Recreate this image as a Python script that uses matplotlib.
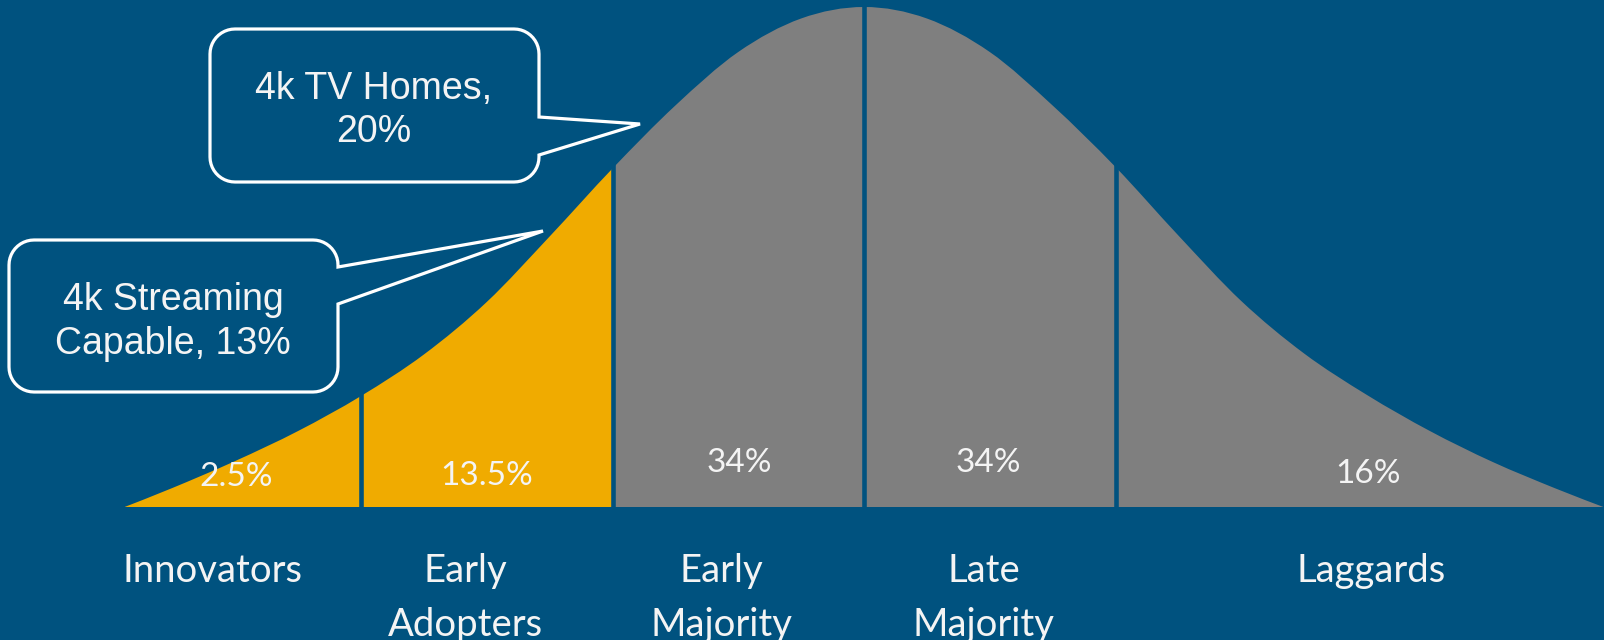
import numpy as np
import matplotlib
matplotlib.use("Agg")
import matplotlib.pyplot as plt
from matplotlib.patches import Polygon, PathPatch, Rectangle
from matplotlib.path import Path

# adoption curve, x in standard-deviation units, height relative to the peak
curve_z = [-2.94, -2.75, -2.5, -2.25, -2.0, -1.75, -1.5, -1.25, -1.0, -0.75, -0.5, -0.25,
           0.0, 0.25, 0.5, 0.75, 1.0, 1.25, 1.5, 1.75, 2.0, 2.25, 2.5, 2.75, 2.94]
curve_h = [0.0, 0.038, 0.092, 0.152, 0.222, 0.305, 0.41, 0.541, 0.677, 0.803, 0.91, 0.977,
           1.0, 0.977, 0.91, 0.803, 0.68, 0.543, 0.412, 0.307, 0.224, 0.152, 0.09, 0.037, 0.0]

segments = ["Innovators", "Early\nAdopters", "Early\nMajority", "Late\nMajority", "Laggards"]
shares = ["2.5%", "13.5%", "34%", "34%", "16%"]
bounds = [-2.94, -2.0, -1.0, 0.0, 1.0, 2.94]
adopted = [True, True, False, False, False]

callouts = ["4k TV Homes,\n20%", "4k Streaming\nCapable, 13%"]

bg = "#00527F"
gold = "#F0AB00"
grey = "#7F7F7F"
txt = "#F4F4F4"

fig = plt.figure(figsize=(16.04, 6.4), dpi=100, facecolor=bg)
ax = fig.add_axes([0, 0, 1, 1])
ax.set_xlim(-864 / 251.5, (1604 - 864) / 251.5)
ax.set_ylim(-133 / 500, 507 / 500)
ax.axis("off")

# smooth outline through the read points (Catmull-Rom as cubic beziers)
P = np.column_stack([curve_z, curve_h])
verts = [(P[0, 0], 0.0), tuple(P[0])]
codes = [Path.MOVETO, Path.LINETO]
for i in range(len(P) - 1):
    p0 = P[max(i - 1, 0)]
    p1, p2 = P[i], P[i + 1]
    p3 = P[min(i + 2, len(P) - 1)]
    verts += [tuple(p1 + (p2 - p0) / 6), tuple(p2 - (p3 - p1) / 6), tuple(p2)]
    codes += [Path.CURVE4] * 3
verts += [(P[-1, 0], 0.0), (P[0, 0], 0.0)]
codes += [Path.LINETO, Path.CLOSEPOLY]
outline = Path(verts, codes)

for i in range(len(segments)):
    clip = Rectangle((bounds[i], -0.01), bounds[i + 1] - bounds[i], 1.1,
                     transform=ax.transData)
    pp = PathPatch(outline, facecolor=gold if adopted[i] else grey, lw=0)
    ax.add_patch(pp)
    pp.set_clip_path(clip)
ax.vlines(bounds[1:-1], -0.01, 1.05, color=bg, lw=3.3)

# overlay in pixel units for the labels and callouts
ov = fig.add_axes([0, 0, 1, 1])
ov.set_xlim(0, 1604)
ov.set_ylim(640, 0)
ov.axis("off")
ov.patch.set_alpha(0)

share_pos = [(236, 477), (487, 476), (739, 463), (988, 463), (1368, 474)]
label_x = [213, 465, 721, 984, 1371]
for i in range(len(segments)):
    ov.text(share_pos[i][0], share_pos[i][1], shares[i], color=txt, fontsize=24,
            family="Lato", ha="center", va="center")
    ov.text(label_x[i], 553, segments[i], color=txt, fontsize=27.5, family="Lato",
            ha="center", va="top", linespacing=1.63)


def bubble(x0, y0, x1, y1, wt, wb, tip, r=25):
    def arc(cx, cy, a0, a1):
        a = np.radians(np.linspace(a0, a1, 12))
        return list(zip(cx + r * np.cos(a), cy + r * np.sin(a)))
    pts = [(x0 + r, y0), (x1 - r, y0)]
    pts += arc(x1 - r, y0 + r, -90, 0)
    pts += [(x1, wt), tip, (x1, wb)]
    pts += arc(x1 - r, y1 - r, 0, 90)
    pts += arc(x0 + r, y1 - r, 90, 180)
    pts += arc(x0 + r, y0 + r, 180, 270)
    ov.add_patch(Polygon(pts, closed=True, facecolor=bg, edgecolor="white",
                         lw=2.3, joinstyle="miter"))


bubble(210, 29, 539, 182, 117, 155, (640, 124))
bubble(9, 240, 338, 392, 267, 304, (543, 231))
ov.text(374, 111, callouts[0], color=txt, fontsize=27, family="Liberation Sans",
        ha="center", va="center", linespacing=1.25)
ov.text(173, 322, callouts[1], color=txt, fontsize=27, family="Liberation Sans",
        ha="center", va="center", linespacing=1.25)

fig.savefig("out.png", dpi=100, facecolor=bg)
